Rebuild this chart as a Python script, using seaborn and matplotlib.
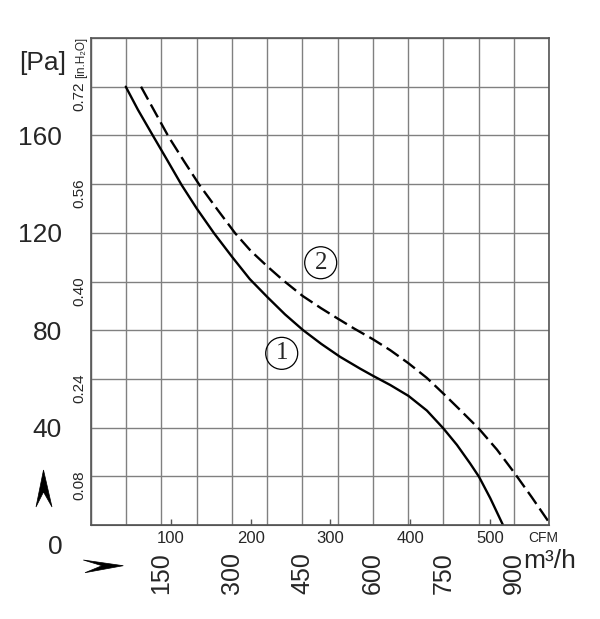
import numpy as np
import pandas as pd
import seaborn as sns
import matplotlib.pyplot as plt
from matplotlib.patches import Polygon
from matplotlib.transforms import ScaledTranslation

# curve 1 (solid) and curve 2 (dashed), airflow in m3/h, pressure in Pa
q1 = [74, 100, 133, 160, 193, 225, 262, 300, 338, 376, 413, 451, 490, 530, 573, 600,
      637, 676, 715, 750, 779, 807, 826, 850, 877]
p1 = [180, 170.5, 159.5, 150.6, 139.6, 130, 119.8, 110.2, 101, 93.5, 86.5, 80.1, 74.4, 69.1, 64.2, 61.3,
      57.5, 53.0, 47.0, 39.7, 32.9, 25.3, 19.8, 11, 0]
q2 = [106.5, 135, 165, 198, 231, 270, 307, 340, 376, 409, 451, 490, 525, 560, 600,
      637, 676, 715, 750, 786, 826, 864, 901, 938, 974]
p2 = [180, 170, 159.5, 149.4, 139.6, 129.3, 119.8, 112.6, 106.1, 100.5, 94, 89, 84.8, 80.7, 76.3,
      71.8, 66.4, 60.4, 54, 47.2, 39.5, 31, 21.5, 11.5, 1.4]

pa_ticks = [40, 80, 120, 160]
inh_ticks = [0.08, 0.24, 0.40, 0.56, 0.72]
m3h_ticks = [150, 300, 450, 600, 750, 900]
cfm_ticks = [100, 200, 300, 400, 500]

PA_PER_INH2O = 249.089
M3H_PER_CFM = 1.699

sns.set_style("white")
plt.rcParams["font.family"] = ["Liberation Sans Narrow", "Liberation Sans", "DejaVu Sans"]

df = pd.concat([
    pd.DataFrame({"q": q1, "p": p1, "curve": "1"}),
    pd.DataFrame({"q": q2, "p": p2, "curve": "2"}),
])

fig = plt.figure(figsize=(6, 6.19), dpi=100)
ax = fig.add_axes([91 / 600, 1 - 525 / 619, 458 / 600, 487 / 619])

sns.lineplot(data=df, x="q", y="p", style="curve", dashes={"1": "", "2": (6.2, 2.4)},
             color="black", lw=1.7, estimator=None, sort=False, legend=False, ax=ax)

ax.set_xlim(0, 975)
ax.set_ylim(0, 200)
ax.set_xlabel("")
ax.set_ylabel("")

ax.set_xticks(m3h_ticks)
ax.set_xticklabels([str(t) for t in m3h_ticks], rotation=90)
ax.set_xticks(np.arange(0, 976, 75), minor=True)
ax.set_yticks(pa_ticks)
ax.set_yticklabels([str(t) for t in pa_ticks])
ax.set_yticks(np.arange(0, 201, 20), minor=True)
ax.grid(True, which="both", color="#808080", lw=1)
ax.tick_params(which="both", length=0)
ax.tick_params(axis="x", pad=19.5, labelsize=18)
ax.tick_params(axis="y", pad=21, labelsize=19)
for s in ax.spines.values():
    s.set_color("#555555")
    s.set_linewidth(1.2)

cfm = ax.secondary_xaxis("bottom", functions=(lambda q: q / M3H_PER_CFM, lambda c: c * M3H_PER_CFM))
cfm.set_xticks(cfm_ticks)
cfm.set_xticklabels([str(t) for t in cfm_ticks])
cfm.tick_params(direction="in", length=4, width=1, color="#555555", labelsize=12, pad=4)
cfm.spines["bottom"].set_color("#555555")

inh = ax.secondary_yaxis("left", functions=(lambda p: p / PA_PER_INH2O, lambda w: w * PA_PER_INH2O))
inh.set_yticks(inh_ticks)
inh.set_yticklabels(["%.2f" % t for t in inh_ticks], rotation=90, va="center")
inh.tick_params(length=0, labelsize=11, pad=3)
inh.spines["left"].set_color("#555555")
shift = ScaledTranslation(0, -6 / 72, fig.dpi_scale_trans)
for lab in inh.get_yticklabels():
    lab.set_transform(lab.get_transform() + shift)

# circled curve numbers
for txt, x, y in [("1", 406, 70.5), ("2", 489, 107.7)]:
    ax.text(x, y, txt, fontfamily=["Liberation Serif", "DejaVu Serif"], fontsize=18,
            ha="center", va="center",
            bbox=dict(boxstyle="circle,pad=0.2", fc="none", ec="black", lw=0.9))

ax.text(-0.061, -0.046, "0", transform=ax.transAxes, ha="right", va="center", fontsize=19)
fig.text(43 / 600, 1 - 63 / 619, "[Pa]", ha="center", va="center", fontsize=19)
fig.text(81 / 600, 1 - 57 / 619, "[in.H₂O]", ha="center", va="center", rotation=90, fontsize=8.5)
fig.text(543.5 / 600, 1 - 537.5 / 619, "CFM", ha="center", va="center", fontsize=10)
fig.text(550 / 600, 1 - 561 / 619, "m³/h", ha="center", va="center", fontsize=19)

# arrowheads
def fig_poly(pts):
    return Polygon([(x / 600, 1 - y / 619) for x, y in pts], closed=True,
                   transform=fig.transFigure, fc="black", ec="black", lw=0.5)

fig.add_artist(fig_poly([(43.5, 470), (52, 507), (43.5, 492), (36, 507)]))
fig.add_artist(fig_poly([(123.3, 565.7), (85, 572.7), (102, 565.7), (83.3, 560)]))

fig.savefig("out.png", dpi=100)
